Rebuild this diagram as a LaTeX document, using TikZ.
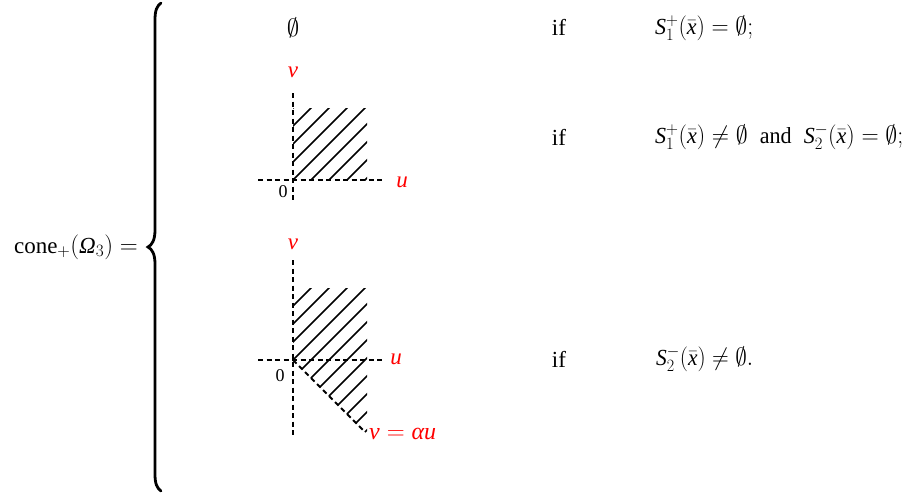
\documentclass[tikz,border=0pt]{standalone}
\usepackage{graphicx}
\usepackage{fontspec}
\setmainfont{Liberation Serif}
\DeclareMathSizes{23}{23}{17}{13}
\newcommand{\vi}[1]{\mathit{#1}}
\tikzset{
  axis/.style={line width=1.8pt, dash pattern=on 5pt off 3.5pt},
  hatch/.style={line width=1.6pt},
  lbl/.style={text=red, inner sep=0pt},
  txt/.style={inner sep=0pt},
}
\begin{document}
\begin{tikzpicture}[x=1pt,y=-1pt,font=\fontsize{23}{27}\selectfont]
\useasboundingbox (0,0) rectangle (905,493);
% left-hand side
\node[txt] (lhs) at (76,247) {$\mathrm{cone}_{+}(\mbox{\itshape Ω}_3)=$};
% brace
\draw[line width=2.8pt, line cap=round] (161,3) .. controls (157,6) and (155,10) .. (155,20) -- (155,230)
  .. controls (155,240) and (152,245) .. (148,247) .. controls (152,249) and (155,254) .. (155,264)
  -- (155,474) .. controls (155,484) and (157,488) .. (161,491);
% case 1
\node[txt] (empty) at (293,28) {$\emptyset$};
\node[txt] (if1) at (559,27) {if};
\node[txt, anchor=west] (c1) at (655,28) {\resizebox{98pt}{\height}{$\vi{S}_1^{+}(\bar{\vi{x}})=\emptyset;$}};
% case 2
\node[txt] (if2) at (559,137) {if};
\node[txt, anchor=west] (c2) at (655,137) {\resizebox{248pt}{\height}{$\vi{S}_1^{+}(\bar{\vi{x}})\neq\emptyset\;$ and $\;\vi{S}_2^{-}(\bar{\vi{x}})=\emptyset;$}};
% case 3
\node[txt] (if3) at (559,359) {if};
\node[txt, anchor=west] (c3) at (656,359) {\resizebox{97pt}{\height}{$\vi{S}_2^{-}(\bar{\vi{x}})\neq\emptyset.$}};
% diagram 1
\coordinate (o1) at (293,180);
\begin{scope}
  \clip (293,108) rectangle (367,180);
  \foreach \c in {383,401,...,563} \draw[hatch] (\c-60,60) -- (\c-220,220);
\end{scope}
\draw[axis] (293,93) -- (293,202);
\draw[axis] (258,180) -- (382,180);
\node[lbl] (v1) at (293,72) {$\vi{v}$};
\node[lbl] (u1) at (402,182) {$\vi{u}$};
\node[txt] (z1) at (283,192) {\fontsize{18}{20}\selectfont 0};
% diagram 2
\coordinate (o2) at (293,360);
\begin{scope}
  \clip (293,288) -- (367,288) -- (367,434) -- (293,360) -- cycle;
  \foreach \c in {563,581,...,797} \draw[hatch] (\c-250,250) -- (\c-450,450);
\end{scope}
\draw[axis] (293,260) -- (293,438);
\draw[axis] (258,360) -- (382,360);
\draw[axis] (o2) -- (365,432) coordinate (e2);
\node[lbl] (v2) at (293,244) {$\vi{v}$};
\node[lbl] (u2) at (396,359) {$\vi{u}$};
\node[txt] (z2) at (280,376) {\fontsize{18}{20}\selectfont 0};
\node[lbl, anchor=west] (lab) at (369,434) {\fontsize{24}{28}\selectfont$\vi{v}=\mbox{\itshape α}\vi{u}$};
\end{tikzpicture}
\end{document}
